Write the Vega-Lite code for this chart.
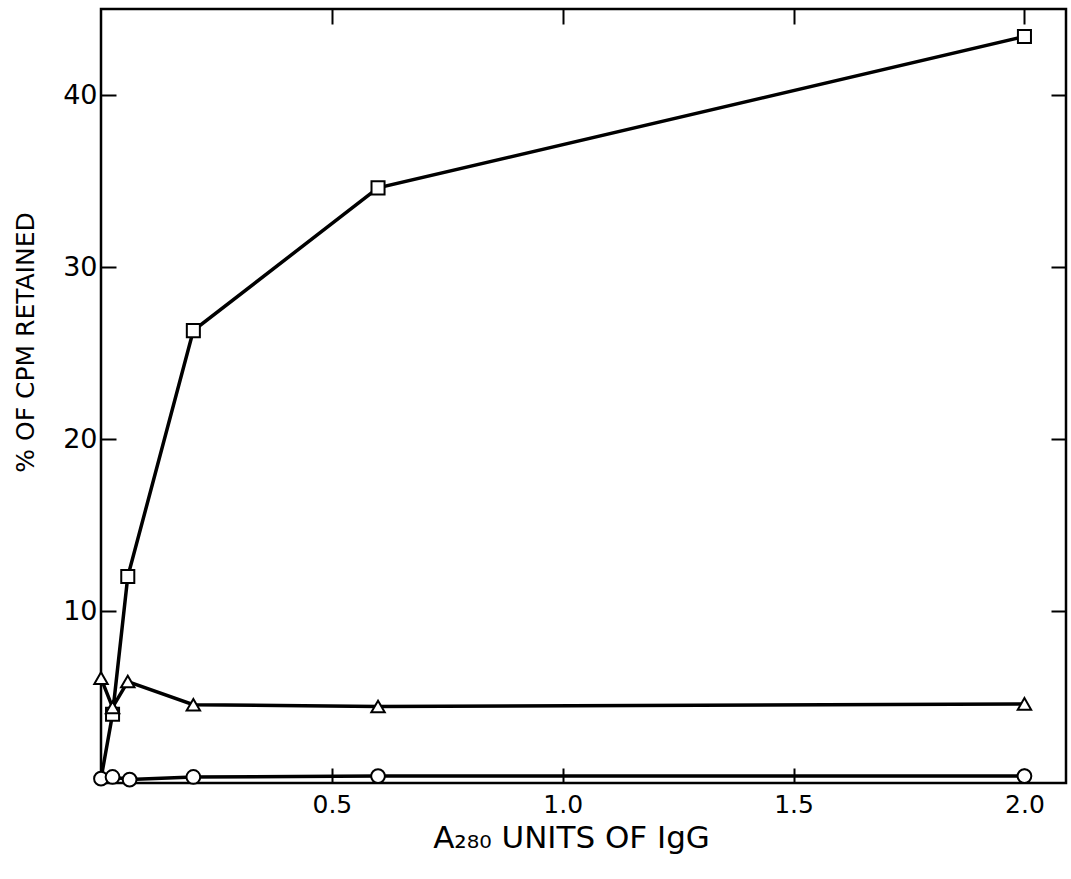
{
  "$schema": "https://vega.github.io/schema/vega-lite/v6.json",
  "autosize": "none",
  "width": 965,
  "height": 774,
  "padding": {"left": 101, "top": 9, "right": 5, "bottom": 96},
  "background": "white",
  "config": {
    "view": {"stroke": "black", "strokeWidth": 2.5},
    "font": "DejaVu Sans",
    "axis": {
      "grid": false,
      "domain": false,
      "tickColor": "black",
      "tickWidth": 2,
      "tickSize": -15,
      "labelColor": "black",
      "labelFont": "DejaVu Sans",
      "labelFontWeight": "normal",
      "titleColor": "black",
      "titleFont": "DejaVu Sans",
      "titleFontWeight": "normal"
    }
  },
  "data": {
    "values": [
      {"series": "square", "x": 0, "y": 0.25, "marker": false},
      {"series": "square", "x": 0.025, "y": 4.0, "marker": true},
      {"series": "square", "x": 0.058, "y": 12.0, "marker": true},
      {"series": "square", "x": 0.2, "y": 26.3, "marker": true},
      {"series": "square", "x": 0.6, "y": 34.6, "marker": true},
      {"series": "square", "x": 2.0, "y": 43.4, "marker": true},
      {"series": "triangle", "x": 0, "y": 6.1, "marker": true},
      {"series": "triangle", "x": 0.025, "y": 4.4, "marker": true},
      {"series": "triangle", "x": 0.058, "y": 5.9, "marker": true},
      {"series": "triangle", "x": 0.2, "y": 4.55, "marker": true},
      {"series": "triangle", "x": 0.6, "y": 4.45, "marker": true},
      {"series": "triangle", "x": 2.0, "y": 4.6, "marker": true},
      {"series": "circle", "x": 0, "y": 0.25, "marker": true},
      {"series": "circle", "x": 0.025, "y": 0.35, "marker": true},
      {"series": "circle", "x": 0.062, "y": 0.2, "marker": true},
      {"series": "circle", "x": 0.2, "y": 0.35, "marker": true},
      {"series": "circle", "x": 0.6, "y": 0.4, "marker": true},
      {"series": "circle", "x": 2.0, "y": 0.4, "marker": true}
    ]
  },
  "layer": [
    {
      "mark": {"type": "line", "color": "black", "strokeWidth": 3.5},
      "encoding": {
        "x": {
          "field": "x", "type": "quantitative",
          "scale": {"domain": [0, 2.09], "nice": false, "zero": false},
          "axis": {
            "orient": "bottom",
            "values": [0.5, 1.0, 1.5, 2.0],
            "format": ".1f",
            "labelFontSize": 25,
            "labelPadding": 24,
            "title": "A₂₈₀ UNITS OF IgG",
            "titleFontSize": 31,
            "titlePadding": 6,
            "titleX": 470,
            "titleAnchor": "middle",
            "titleAlign": "center"
          }
        },
        "y": {
          "field": "y", "type": "quantitative",
          "scale": {"domain": [0, 45], "nice": false},
          "axis": {
            "orient": "left",
            "values": [10, 20, 30, 40],
            "labelFontSize": 27,
            "labelPadding": 19,
            "title": "% OF CPM RETAINED",
            "titleFontSize": 25,
            "titleAngle": -90,
            "titleX": -76,
            "titleY": 333,
            "titleAlign": "center",
            "titleBaseline": "middle"
          }
        },
        "detail": {"field": "series"}
      }
    },
    {
      "transform": [{"filter": "datum.marker"}],
      "mark": {"type": "point", "filled": true, "fill": "white", "stroke": "black", "strokeWidth": 2, "opacity": 1},
      "encoding": {
        "x": {
          "field": "x", "type": "quantitative",
          "axis": {"orient": "top", "values": [0.5, 1.0, 1.5, 2.0], "labels": false, "title": null}
        },
        "y": {
          "field": "y", "type": "quantitative",
          "axis": {"orient": "right", "values": [10, 20, 30, 40], "labels": false, "title": null}
        },
        "shape": {
          "field": "series", "type": "nominal",
          "scale": {"domain": ["square", "triangle", "circle"], "range": ["square", "triangle-up", "circle"]},
          "legend": null
        },
        "size": {
          "field": "series", "type": "nominal",
          "scale": {"domain": ["square", "triangle", "circle"], "range": [170, 190, 150]},
          "legend": null
        }
      }
    }
  ]
}
